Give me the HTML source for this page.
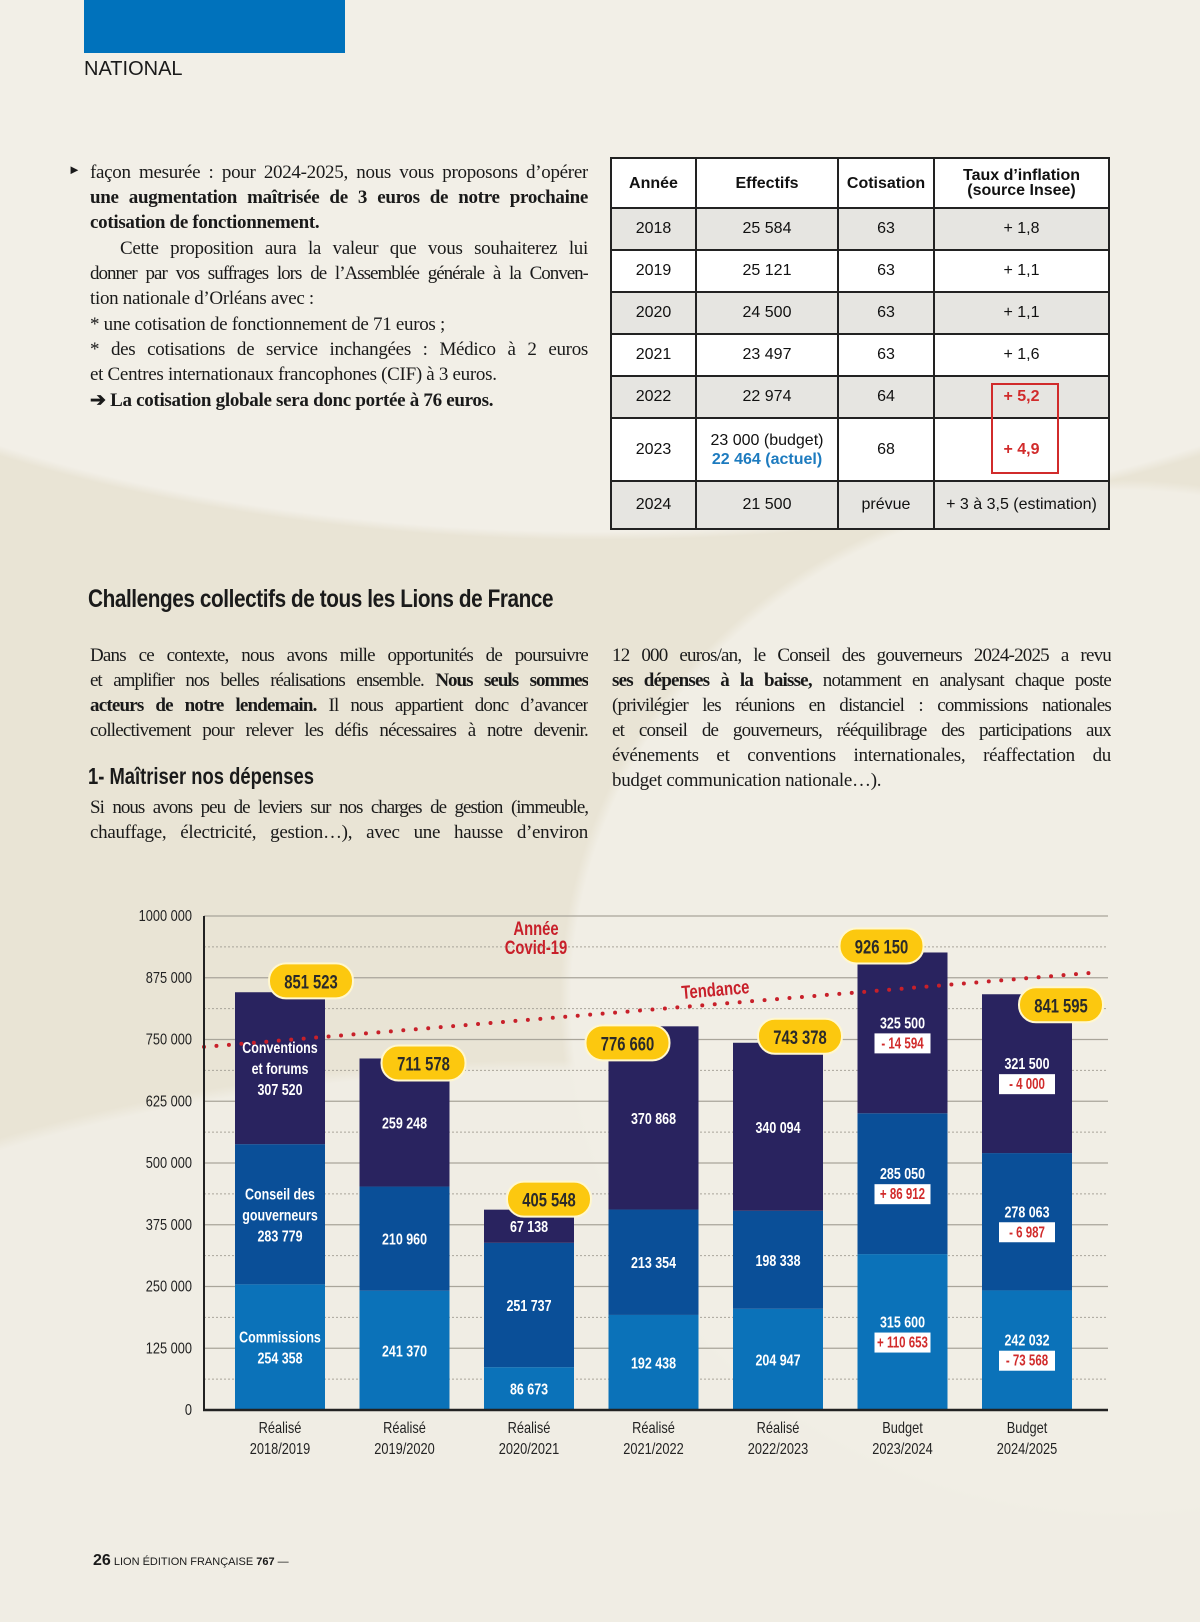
<!DOCTYPE html>
<html><head><meta charset="utf-8"><style>
*{margin:0;padding:0;box-sizing:border-box}
html,body{width:1200px;height:1622px;overflow:hidden}
body{position:relative;font-family:"Liberation Serif",serif;color:#1a1a1a;
background:
radial-gradient(ellipse 560px 520px at 1120px 1000px,#f1eee5 98%,transparent 100%),
radial-gradient(ellipse 1000px 420px at 600px 120px,#f2efe7 98%,transparent 100%),
radial-gradient(ellipse 1100px 560px at 560px 1620px,#f0ede4 98%,transparent 100%),
#e9e4d5}
.abs{position:absolute}
.ln{position:absolute;left:90px;width:498px;font-size:19px;line-height:25px;white-space:nowrap;overflow:hidden;text-align:justify;text-align-last:justify;letter-spacing:-0.3px}
.ln.r{left:612px;width:499px}
.ln.last{text-align-last:left}
b{font-weight:bold}
.cond{display:inline-block;transform:scaleX(0.82);transform-origin:left center;white-space:nowrap}
table{position:absolute;left:610px;top:157px;width:500px;border-collapse:collapse;font-family:"Liberation Sans",sans-serif;font-size:16px;text-align:center;color:#111}
td,th{border:2px solid #222;}
th{font-size:16px;line-height:15px;height:50px;background:#fff}
tr.g td{background:#e6e5e1}
tr.w td{background:#fff}
</style></head><body>

<div class="abs" style="left:84px;top:0;width:261px;height:53px;background:#0072bc"></div>
<div class="abs" style="left:84px;top:58px;font-family:'Liberation Sans',sans-serif;font-size:20px">NATIONAL</div>

<div>
<div class="abs" style="left:68px;top:162px;font-size:13px">►</div>
<div class="ln" style="top:160px">façon mesurée : pour 2024-2025, nous vous proposons d’opérer</div>
<div class="ln" style="top:185px"><b>une augmentation maîtrisée de 3 euros de notre prochaine</b></div>
<div class="ln last" style="top:210px"><b>cotisation de fonctionnement.</b></div>
<div class="ln" style="top:236px;padding-left:30px">Cette proposition aura la valeur que vous souhaiterez lui</div>
<div class="ln" style="top:261px;letter-spacing:-1px">donner par vos suffrages lors de l’Assemblée générale à la Conven-</div>
<div class="ln last" style="top:286px">tion nationale d’Orléans avec :</div>
<div class="ln last" style="top:312px">* une cotisation de fonctionnement de 71 euros ;</div>
<div class="ln" style="top:337px">* des cotisations de service inchangées : Médico à 2 euros</div>
<div class="ln last" style="top:362px">et Centres internationaux francophones (CIF) à 3 euros.</div>
<div class="ln last" style="top:388px"><b>➔ La cotisation globale sera donc portée à 76 euros.</b></div>
</div>

<table>
<tr><th style="width:85px">Année</th><th style="width:142px">Effectifs</th><th style="width:96px">Cotisation</th><th>Taux d’inflation<br>(source Insee)</th></tr>
<tr class="g" style="height:42px"><td>2018</td><td>25 584</td><td>63</td><td>+ 1,8</td></tr>
<tr class="w" style="height:42px"><td>2019</td><td>25 121</td><td>63</td><td>+ 1,1</td></tr>
<tr class="g" style="height:42px"><td>2020</td><td>24 500</td><td>63</td><td>+ 1,1</td></tr>
<tr class="w" style="height:42px"><td>2021</td><td>23 497</td><td>63</td><td>+ 1,6</td></tr>
<tr class="g" style="height:42px"><td>2022</td><td>22 974</td><td>64</td><td style="color:#d12b2b;font-weight:bold">+ 5,2</td></tr>
<tr class="w" style="height:63px"><td>2023</td><td style="line-height:19px">23 000 (budget)<br><span style="color:#1d7bbf;font-weight:bold">22 464 (actuel)</span></td><td>68</td><td style="color:#d12b2b;font-weight:bold">+ 4,9</td></tr>
<tr class="g" style="height:48px"><td>2024</td><td>21 500</td><td>prévue</td><td>+ 3 à 3,5 (estimation)</td></tr>
</table>
<div class="abs" style="left:991px;top:383px;width:68px;height:91px;border:2px solid #d12b2b"></div>

<div class="abs" style="left:88px;top:585px;font-family:'Liberation Sans',sans-serif;font-weight:bold;font-size:25px;letter-spacing:-0.5px"><span class="cond" style="transform:scaleX(0.83)">Challenges collectifs de tous les Lions de France</span></div>

<div>
<div class="ln" style="top:643px;letter-spacing:-0.8px">Dans ce contexte, nous avons mille opportunités de poursuivre</div>
<div class="ln" style="top:668px;letter-spacing:-1px">et amplifier nos belles réalisations ensemble. <b>Nous seuls sommes</b></div>
<div class="ln" style="top:693px;letter-spacing:-0.8px"><b>acteurs de notre lendemain.</b> Il nous appartient donc d’avancer</div>
<div class="ln" style="top:718px;letter-spacing:-0.8px">collectivement pour relever les défis nécessaires à notre devenir.</div>
<div class="abs" style="left:88px;top:763px;font-family:'Liberation Sans',sans-serif;font-weight:bold;font-size:23px"><span class="cond" style="transform:scaleX(0.8)">1- Maîtriser nos dépenses</span></div>
<div class="ln" style="top:795px;letter-spacing:-1px">Si nous avons peu de leviers sur nos charges de gestion (immeuble,</div>
<div class="ln" style="top:820px">chauffage, électricité, gestion…), avec une hausse d’environ</div>
</div>
<div>
<div class="ln r" style="top:643px;letter-spacing:-0.8px">12 000 euros/an, le Conseil des gouverneurs 2024-2025 a revu</div>
<div class="ln r" style="top:668px;letter-spacing:-0.8px"><b>ses dépenses à la baisse,</b> notamment en analysant chaque poste</div>
<div class="ln r" style="top:693px;letter-spacing:-0.8px">(privilégier les réunions en distanciel : commissions nationales</div>
<div class="ln r" style="top:718px;letter-spacing:-0.8px">et conseil de gouverneurs, rééquilibrage des participations aux</div>
<div class="ln r" style="top:743px">événements et conventions internationales, réaffectation du</div>
<div class="ln r last" style="top:768px">budget communication nationale…).</div>
</div>

<svg id="chart" class="abs" style="left:0;top:0" width="1200" height="1622" font-family="'Liberation Sans',sans-serif"></svg>

<div class="abs" style="left:93px;top:1552px;font-family:'Liberation Sans',sans-serif;font-size:11px"><b style="font-size:16px">26</b> LION ÉDITION FRANÇAISE <b>767</b> —</div>

<script>
const categories1 = ["Réalisé","Réalisé","Réalisé","Réalisé","Réalisé","Budget","Budget"];
const categories2 = ["2018/2019","2019/2020","2020/2021","2021/2022","2022/2023","2023/2024","2024/2025"];
const commissions = [254358,241370,86673,192438,204947,315600,242032];
const conseil = [283779,210960,251737,213354,198338,285050,278063];
const conventions = [307520,259248,67138,370868,340094,325500,321500];
const totals = ["851 523","711 578","405 548","776 660","743 378","926 150","841 595"];
const totalValues = [851523,711578,405548,776660,743378,926150,841595];
const chgCommissions = [null,null,null,null,null,"+ 110 653","- 73 568"];
const chgConseil = [null,null,null,null,null,"+ 86 912","- 6 987"];
const chgConventions = [null,null,null,null,null,"- 14 594","- 4 000"];
const yTicks = [0,125000,250000,375000,500000,625000,750000,875000,1000000];
const yTickLabels = ["0","125 000","250 000","375 000","500 000","625 000","750 000","875 000","1000 000"];
const trendStart = 735000, trendEnd = 885000;

const NS="http://www.w3.org/2000/svg";
const svg=document.getElementById('chart');
const X0=204,X1=1108,Y0=1410,YT=916;
const y=v=>Y0-(v/1000000)*(Y0-YT);
const xc=i=>280+i*124.5;
const BW=90;
// label placement offsets (layout only)
const bubbleDX=[31,19,20,-26,22,-21,34];
const bubbleDY=[-8,5,-10,17,-6,-6,11];
function el(t,a,p){const e=document.createElementNS(NS,t);for(const k in a)e.setAttribute(k,a[k]);(p||svg).appendChild(e);return e;}
function txt(x,yy,s,a,sx){
  const g=el('g',{transform:'translate('+x+' '+yy+') scale('+(sx||0.8)+' 1)'});
  const e=el('text',Object.assign({x:0,y:0,'text-anchor':'middle'},a),g);
  e.textContent=s;return e;}

yTicks.forEach((v,i)=>{
  const g=el('line',{x1:X0,x2:X1,y1:y(v),y2:y(v),stroke:'#a9a59a','stroke-width':1.2});
  
  
  if(i<yTicks.length-1){
    const m=el('line',{x1:X0,x2:X1,y1:y(v+62500),y2:y(v+62500),stroke:'#a9a59a','stroke-width':1,'stroke-dasharray':'2 2'});
    
    
  }
  const t=txt(192,y(v)+5,yTickLabels[i],{'text-anchor':'end','font-size':16,fill:'#222'},0.8);
  
  
});

const colors=['#0b72b9','#0a4f98','#29235f'];
const series=[commissions,conseil,conventions];
const chgs=[chgCommissions,chgConseil,chgConventions];
const names=['bar-commissions','bar-conseil','bar-conventions'];
const firstLabels=[["Commissions"],["Conseil des","gouverneurs"],["Conventions","et forums"]];
function num(v){return v.toString().replace(/\B(?=(\d{3})+(?!\d))/g,' ');}

categories1.forEach((c,i)=>{
  let base=0;
  series.forEach((s,k)=>{
    const v=s[i];
    const r=el('rect',{x:xc(i)-BW/2,y:y(base+v),width:BW,height:y(base)-y(base+v),fill:colors[k]});
    
    
    const mid=(y(base)+y(base+v))/2;
    let lines=(i===0)?firstLabels[k].concat([num(v)]):[num(v)];
    const ch=chgs[k][i];
    const n=lines.length+(ch?1:0);
    let ty=mid-(n-1)*10.5+6;
    lines.forEach(l=>{
      const t=txt(xc(i),ty,l,{'font-size':16,'font-weight':'bold',fill:'#fff'},0.78);
      
      
      ty+=21;
    });
    if(ch){
      const bx=el('rect',{x:xc(i)-28,y:ty-16,width:56,height:20,fill:'#fff'});
      
      
      const t=txt(xc(i),ty-1,ch,{'font-size':16,'font-weight':'bold',fill:'#d12b2b'},0.72);
      
      
    }
    base+=v;
  });
});

const tr=el('line',{x1:X0,x2:1092,y1:y(trendStart),y2:y(trendEnd),stroke:'#c8202a','stroke-width':4,'stroke-linecap':'round','stroke-dasharray':'0 12.5'});



categories1.forEach((c,i)=>{
  const top=y(totalValues[i]);
  const bx=xc(i)+bubbleDX[i], by=top+bubbleDY[i];
  const p=el('rect',{x:bx-42,y:by-18,width:84,height:35,rx:17,fill:'#fcc80f',stroke:'#fff7cf','stroke-width':2});
  
  
  const t=txt(bx,by+7,totals[i],{'font-size':19,'font-weight':'bold',fill:'#2a2a2a'},0.78);
  
  
  const l1=txt(xc(i),1433,c,{'font-size':16,fill:'#222'},0.8);
  
  
  const l2=txt(xc(i),1454,categories2[i],{'font-size':16,fill:'#222'},0.8);
  
  
});

const ax=el('line',{x1:X0,x2:X0,y1:YT,y2:Y0,stroke:'#222','stroke-width':2});


const bxl=el('line',{x1:X0-1,x2:X1,y1:Y0,y2:Y0,stroke:'#222','stroke-width':2.5});



const tlg=el('g',{transform:'rotate(-5 716 996)'});
const tl=el('text',{x:0,y:0,'text-anchor':'middle','font-size':19,'font-weight':'bold',fill:'#c8202a',transform:'translate(716 996) scale(0.78 1)'},tlg);
tl.textContent='Tendance';


const c1=txt(536,935,'Année',{'font-size':19,'font-weight':'bold',fill:'#c8202a'},0.78);


const c2=txt(536,954,'Covid-19',{'font-size':19,'font-weight':'bold',fill:'#c8202a'},0.78);


</script>
</body></html>
